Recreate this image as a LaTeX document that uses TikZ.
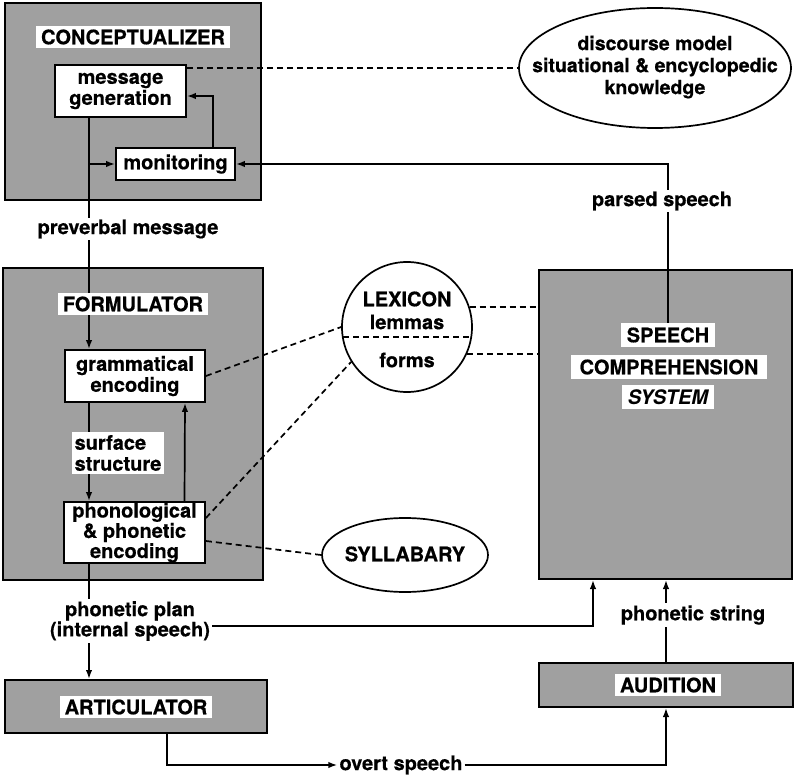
\documentclass[tikz,border=0pt]{standalone}
\usepackage{fontspec}
\setmainfont{TeX Gyre Heros}[BoldFeatures={FakeBold=0.5}]
\usetikzlibrary{arrows.meta,shapes.geometric,calc}
\pgfdeclarelayer{bg}
\pgfdeclarelayer{fg}
\pgfsetlayers{bg,main,fg}
\definecolor{boxgray}{RGB}{160,160,160}
\begin{document}
\begin{tikzpicture}[x=1pt,y=-1pt,
  every node/.style={font=\bfseries\fontsize{20}{21}\selectfont},
  module/.style={draw,line width=2pt,fill=boxgray,inner sep=0pt},
  proc/.style={draw,line width=1.8pt,fill=white,align=center,inner sep=0pt},
  tag/.style={fill=white,align=center,inner xsep=5pt,inner ysep=3pt},
  txt/.style={align=center,inner sep=1pt},
  store/.style={draw,line width=1.7pt,fill=white,inner sep=0pt},
  dash line/.style={line width=1.7pt,dash pattern=on 6pt off 4pt},
  conn/.style={line width=1.7pt},
  arr/.style={conn,-{Latex[length=9pt,width=6.5pt]}},
]
\useasboundingbox (0,0) rectangle (795,775);

% modules (gray boxes)
\begin{pgfonlayer}{bg}
\node[module,minimum width=256pt,minimum height=197pt] (conc) at (133,101.5) {};
\node[module,minimum width=260pt,minimum height=312pt] (form) at (133,424) {};
\node[module,minimum width=262pt,minimum height=53pt] (art) at (136,706.5) {};
\node[module,minimum width=253pt,minimum height=309pt] (spc) at (665,424.5) {};
\node[module,minimum width=254pt,minimum height=44pt] (aud) at (666,685) {};
\end{pgfonlayer}

\begin{pgfonlayer}{fg}
% process boxes
\node[proc,minimum width=131pt,minimum height=52pt] (msg) at (120.5,91) {message\\generation};
\node[proc,minimum width=119pt,minimum height=32pt] (mon) at (175.5,164) {monitoring};
\node[proc,minimum width=140pt,minimum height=52pt] (gram) at (135,376) {grammatical\\encoding};
\node[proc,minimum width=141pt,minimum height=61pt,font=\bfseries\fontsize{20}{16.5}\selectfont] (phon) at (134.5,532.5) {phonological\\\& phonetic\\encoding};

% module titles
\node[tag] (tconc) at (133,37) {CONCEPTUALIZER};
\node[tag] (tform) at (133,304) {FORMULATOR};
\node[tag] (tart) at (136,707) {ARTICULATOR};
\node[tag,inner xsep=6pt,inner ysep=4pt] (spch) at (668,335) {SPEECH};
\node[tag,inner xsep=9pt,inner ysep=4pt] (tcomp) at (669,367) {COMPREHENSION};
\node[tag,inner xsep=6pt,inner ysep=4pt] (tsys) at (668,397) {\itshape SYSTEM};
\node[tag] (taud) at (668,685) {AUDITION};

% knowledge stores
\node[store,ellipse,minimum width=272pt,minimum height=120pt] (disc) at (655,68) {};
\node[txt,font=\bfseries\fontsize{19.5}{22}\selectfont] (tdisc) at (655,67) {discourse model\\situational \& encyclopedic\\knowledge};
\node[store,circle,minimum size=130pt] (lex) at (407,327) {};
\draw[dash line] ([shift={(-64,10)}]lex.center) -- ([shift={(64,10)}]lex.center);
\node[txt] (tlex) at (407,299) {LEXICON};
\node[txt] (tlem) at (407,322) {lemmas};
\node[txt] (tforms) at (407,360) {forms};
\node[store,ellipse,minimum width=166pt,minimum height=74pt] (syl) at (405,555) {};
\node[txt] (tsyl) at (405,554) {SYLLABARY};

% connector labels
\node[tag,inner sep=2pt] (pvm) at (128,229) {preverbal message};
\node[tag,align=left,inner sep=3pt] (surf) at (118,453) {surface\\structure};
\node[tag,inner sep=2pt,font=\bfseries\fontsize{20}{18}\selectfont] (pp) at (130,621) {phonetic plan\\(internal speech)};
\node[tag,inner sep=2pt] (ps) at (662,201) {parsed speech};
\node[tag,inner sep=2pt] (pst) at (693,615) {phonetic string};
\node[tag,inner sep=2pt] (ov) at (401,765) {overt speech};
\end{pgfonlayer}

\coordinate (vx) at (89,0);

% main production line
\draw[arr] (msg.south -| vx) -- (gram.north -| vx);
\draw[arr] (vx |- mon.west) -- (mon.west);
\draw[arr] (gram.south -| vx) -- (phon.north -| vx);
\draw[arr] (phon.south -| vx) -- (art.north -| vx);

% feedback loops
\draw[arr] ([xshift=37.5pt]mon.north) |- ([yshift=-5pt]msg.east);
\draw[arr] ([xshift=50pt]phon.north) -- ([xshift=50pt]gram.south);
\draw[arr] (spch.north) |- (mon.east);
\draw[arr] ([yshift=-5pt]pp.east) -| ([xshift=-72pt]spc.south);
\draw[arr] (aud.north) -- (aud.north |- spc.south);
\draw[arr] ([xshift=31pt]art.south) |- (ov.west);
\draw[arr] (ov.east) -| (aud.south);

% dashed links to knowledge stores
\draw[dash line] (msg.east |- disc.west) -- (disc.west);
\draw[dash line] (gram.east) -- (lex.180);
\draw[dash line] ([yshift=14.5pt]phon.east) -- (lex.212);
\draw[dash line] ([yshift=-8.5pt]phon.east) -- (syl.west);
\draw[dash line] (lex.18) -- (lex.18 -| spc.west);
\draw[dash line] (lex.-24) -- (lex.-24 -| spc.west);
\end{tikzpicture}
\end{document}
